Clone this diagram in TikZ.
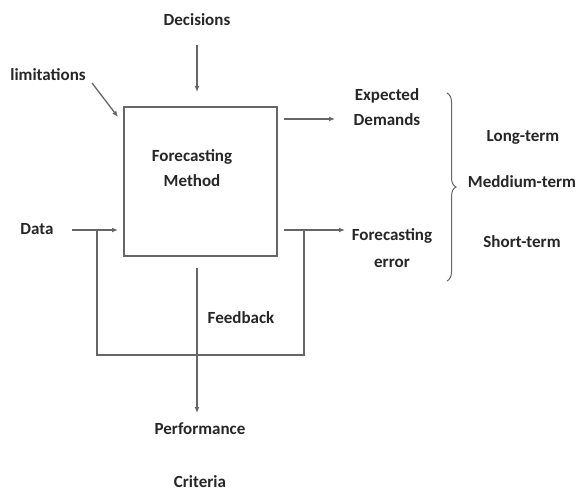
\documentclass[tikz,border=0pt]{standalone}
\usepackage{fontspec}
\setmainfont{Carlito}
\usetikzlibrary{arrows.meta,decorations.pathreplacing}
\begin{document}
\begin{tikzpicture}[x=1pt,y=-1pt,
  lbl/.style={font=\bfseries\fontsize{17}{21}\selectfont, text=black!85, align=center, inner sep=0pt},
  ln/.style={draw=black!60, line width=1.3pt},
  arr/.style={ln, -{Latex[length=6pt,width=5pt]}}]
\useasboundingbox (0,0) rectangle (584,492);
\node[ln, draw, minimum width=153pt, minimum height=149pt, inner sep=0pt] (box) at (200.5,181.5) {};
\node[lbl] (fm) at (192,168) {Forecasting\\[4pt]Method};
\node[lbl] (dec) at (197,20) {Decisions};
\node[lbl] (lim) at (48,75) {limitations};
\node[lbl] (data) at (37,229) {Data};
\node[lbl] (exp) at (387,107) {Expected\\[4pt]Demands};
\node[lbl] (ferr) at (392,248) {Forecasting\\[6pt]error};
\node[lbl] (long) at (523,137) {Long-term};
\node[lbl] (med) at (522,182) {Meddium-term};
\node[lbl] (short) at (522,242) {Short-term};
\node[lbl] (fb) at (241,318) {Feedback};
\node[lbl] (perf) at (200,429) {Performance};
\node[lbl] (crit) at (200,482) {Criteria};
\coordinate (d1) at (197,45);
\coordinate (d2) at (197,92);
\coordinate (l1) at (92,83);
\coordinate (l2) at (118,117);
\coordinate (a1) at (72,230);
\coordinate (a2) at (118,230);
\coordinate (fl) at (97,230);
\coordinate (fr) at (304,230);
\coordinate (o1) at (284,119);
\coordinate (o2) at (335,119);
\coordinate (e1) at (284,230);
\coordinate (e2) at (345,230);
\coordinate (p1) at (197,268);
\coordinate (p2) at (197,413);
\draw[arr] (d1) -- (d2);
\draw[arr] (l1) -- (l2);
\draw[arr] (a1) -- (a2);
\draw[arr] (o1) -- (o2);
\draw[arr] (e1) -- (e2);
\draw[ln] (fl) -- (fl |- 0,355) -- (fr |- 0,355) -- (fr);
\draw[arr] (p1) -- (p2);
\draw[draw=black!60, line width=1pt, decorate, decoration={brace, amplitude=9pt}] (447,93) -- (447,281);
\end{tikzpicture}
\end{document}
